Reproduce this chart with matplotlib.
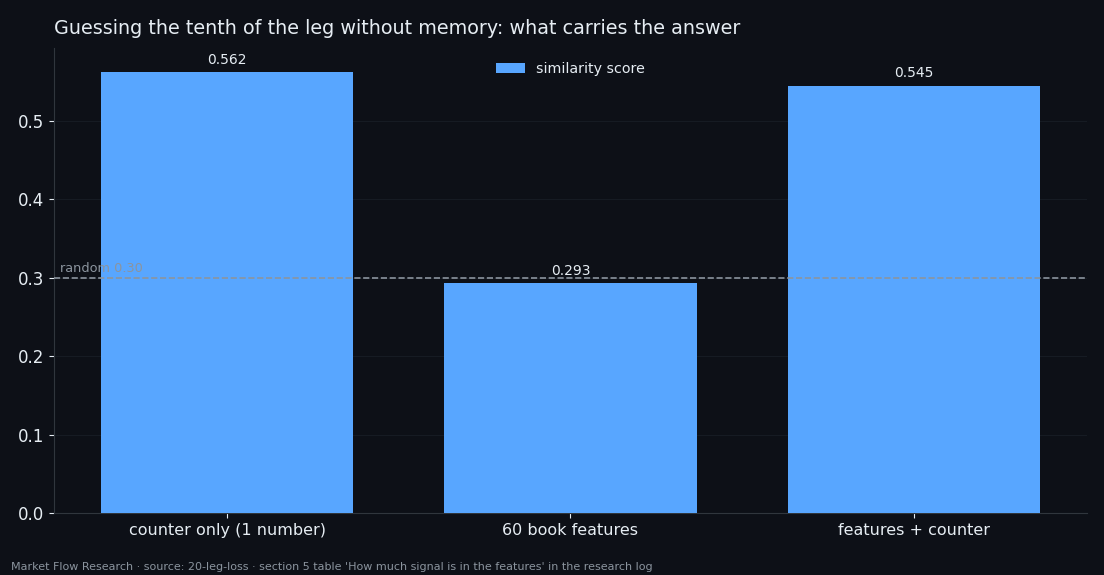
import matplotlib
matplotlib.use("Agg")
from matplotlib import pyplot as plt

categories = ["counter only (1 number)", "60 book features", "features + counter"]
scores = [0.562, 0.293, 0.545]
random_level = 0.30

bg = "#0d1017"
bar_color = "#58a6ff"
text_color = "#e6edf3"

fig = plt.figure(figsize=(11.04, 5.75), dpi=100, facecolor=bg)
ax = fig.add_axes([54 / 1104, 1 - 513 / 575, 1033 / 1104, 465 / 575])
ax.set_facecolor(bg)

x = list(range(len(categories)))
bars = ax.bar(x, scores, width=0.735, color=bar_color, label="similarity score", zorder=3)
for b, v in zip(bars, scores):
    ax.text(b.get_x() + b.get_width() / 2, v + 0.007, "%.3f" % v, ha="center", va="bottom",
            color=text_color, fontsize=10, zorder=5)

# chance line
ax.axhline(random_level, color="#8b949e", linestyle="--", linewidth=1.2, zorder=4)
ax.text(-0.487, random_level + 0.003, "random 0.30", color="#8b949e", fontsize=9.3,
        ha="left", va="bottom", zorder=5)

ax.set_xticks(x)
ax.set_xticklabels(categories, fontsize=11.5, color=text_color)
ax.tick_params(axis="y", labelsize=12, colors=text_color)
ax.tick_params(axis="x", colors=text_color)
ax.set_yticks([0.0, 0.1, 0.2, 0.3, 0.4, 0.5])
ax.set_ylim(0, 0.593)
ax.grid(axis="y", color="#161b23", linewidth=0.8, zorder=0)
for s in ["top", "right"]:
    ax.spines[s].set_visible(False)
for s in ["left", "bottom"]:
    ax.spines[s].set_color("#30363d")

ax.legend(loc="upper center", frameon=False, fontsize=10.3, labelcolor=text_color,
          bbox_to_anchor=(0.5, 0.998))

fig.text(54 / 1104, 1 - 28 / 575, "Guessing the tenth of the leg without memory: what carries the answer",
         color=text_color, fontsize=13.75, ha="left", va="center")
fig.text(11 / 1104, 1 - 567 / 575,
         "Market Flow Research \u00b7 source: 20-leg-loss \u00b7 section 5 table 'How much signal is in the features' in the research log",
         color="#8b949e", fontsize=8, ha="left", va="center")

fig.savefig("out.png", dpi=100, facecolor=bg)
